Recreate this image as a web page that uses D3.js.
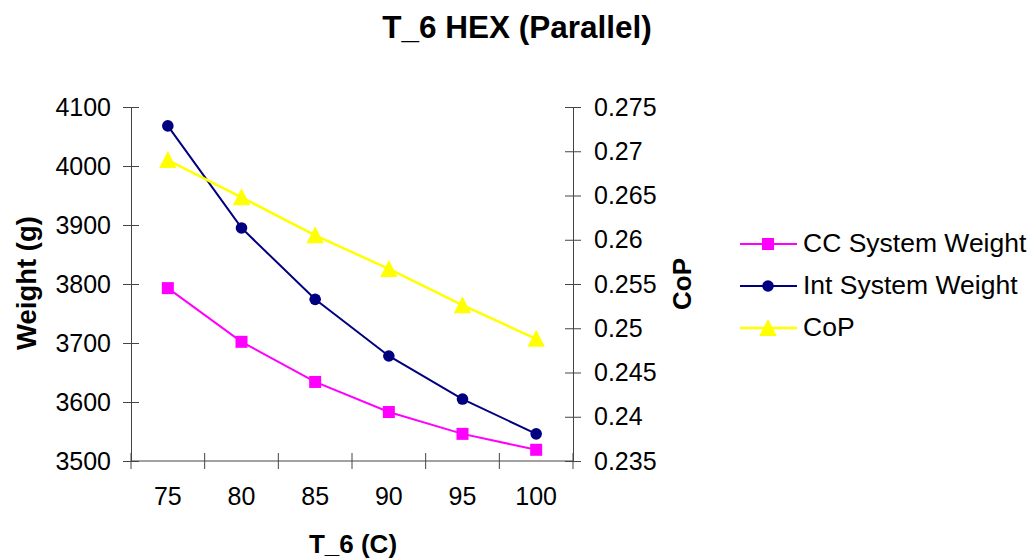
<!DOCTYPE html>
<html><head><meta charset="utf-8">
<script src="https://cdn.jsdelivr.net/npm/d3@7"></script>
<style>body{margin:0;background:#fff}svg{font-family:"Liberation Sans",Arial,sans-serif}</style>
</head><body><svg id="c" width="1032" height="558"></svg>
<script>
const categories = ["75","80","85","90","95","100"];
const ccWeight = [3793, 3702, 3634, 3583, 3546, 3519];
const intWeight = [4068, 3895, 3774, 3678, 3605, 3546];
const cop = [0.2690, 0.2648, 0.2605, 0.2567, 0.2526, 0.2488];
const leftTicks = [3500,3600,3700,3800,3900,4000,4100];
const rightTicks = [0.235,0.24,0.245,0.25,0.255,0.26,0.265,0.27,0.275];

const svg = d3.select("#c");
const L = 131, R = 573, T = 107, B = 461;
const x = d3.scaleBand().domain(categories).range([L, R]);
const yL = d3.scaleLinear().domain([3500, 4100]).range([B, T]);
const yR = d3.scaleLinear().domain([0.235, 0.275]).range([B, T]);
const axisColor = "#444";
const tickFont = 25;

// title
svg.append("text").attr("x", 517).attr("y", 38).attr("text-anchor","middle")
  .attr("font-size", 31.5).attr("font-weight","bold").text("T_6 HEX (Parallel)");

// left axis
const gL = svg.append("g").attr("transform", `translate(${L},0)`)
  .call(d3.axisLeft(yL).tickValues(leftTicks).tickFormat(d3.format("d")).tickSize(8).tickPadding(12));
gL.selectAll(".tick line").clone().attr("x2", 8);
// right axis
const gR = svg.append("g").attr("transform", `translate(${R},0)`)
  .call(d3.axisRight(yR).tickValues(rightTicks).tickFormat(d => +d.toFixed(3) + "").tickSize(8).tickPadding(13));
gR.selectAll(".tick line").clone().attr("x2", -8);
// bottom axis
const xBound = d3.scaleLinear().domain([0,6]).range([L,R]);
const gB = svg.append("g").attr("transform", `translate(0,${B})`)
  .call(d3.axisBottom(x).tickSize(0).tickPadding(26));
gB.selectAll(".tick line").remove();
d3.range(7).forEach(i => {
  gB.append("line").attr("x1", xBound(i)).attr("x2", xBound(i)).attr("y1", -8).attr("y2", 8);
});
gB.selectAll("line").attr("stroke", axisColor);
[gL, gR, gB].forEach(g => {
  g.select(".domain").attr("stroke", axisColor);
  g.selectAll(".tick line").attr("stroke", axisColor);
  g.selectAll("text").attr("font-size", tickFont).attr("fill", "#000");
  g.attr("font-family", null).attr("font-size", null);
});
gB.select(".domain").attr("d", `M${L},0H${R}`);

// axis titles
svg.append("text").attr("transform", `translate(36,283) rotate(-90)`).attr("text-anchor","middle")
  .attr("font-size", 27.5).attr("font-weight","bold").text("Weight (g)");
svg.append("text").attr("transform", `translate(691,284) rotate(-90)`).attr("text-anchor","middle")
  .attr("font-size", 26).attr("font-weight","bold").text("CoP");
svg.append("text").attr("x", 353).attr("y", 553).attr("text-anchor","middle")
  .attr("font-size", 26).attr("font-weight","bold").text("T_6 (C)");

const cx = d => x(d) + x.bandwidth()/2;
const series = [
  {name:"CC System Weight", values: ccWeight, scale: yL, color:"#FF00FF", shape:"square", w: 2},
  {name:"Int System Weight", values: intWeight, scale: yL, color:"#000080", shape:"circle", w: 2},
  {name:"CoP", values: cop, scale: yR, color:"#FFFF00", shape:"triangle", w: 2.5}
];
function marker(g, shape, color, px, py) {
  if (shape === "square") g.append("rect").attr("x", px-6).attr("y", py-6).attr("width", 12).attr("height", 12).attr("fill", color);
  else if (shape === "circle") g.append("circle").attr("cx", px).attr("cy", py).attr("r", 5.8).attr("fill", color);
  else g.append("path").attr("d", `M${px},${py-9}L${px+8.7},${py+8}L${px-8.7},${py+8}Z`).attr("fill", color);
}
series.forEach(s => {
  const line = d3.line().x((d,i) => cx(categories[i])).y(d => s.scale(d));
  svg.append("path").datum(s.values).attr("d", line).attr("fill","none").attr("stroke", s.color).attr("stroke-width", s.w);
  const g = svg.append("g");
  s.values.forEach((v,i) => marker(g, s.shape, s.color, cx(categories[i]), s.scale(v)));
});

// legend
series.forEach((s,i) => {
  const ly = 244 + i*42;
  const g = svg.append("g");
  g.append("line").attr("x1", 740).attr("x2", 797).attr("y1", ly).attr("y2", ly).attr("stroke", s.color).attr("stroke-width", s.w);
  marker(g, s.shape, s.color, 768, ly);
  g.append("text").attr("x", 803).attr("y", ly + 8).attr("font-size", 26.5).text(s.name);
});
</script></body></html>
